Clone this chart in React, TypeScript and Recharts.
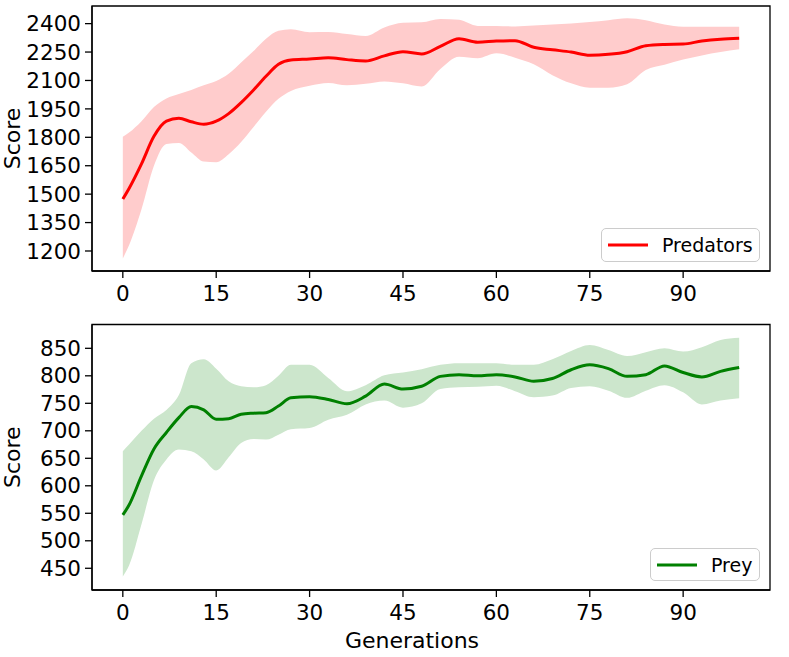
import React from 'react';
import { ComposedChart, Area, Line, XAxis, YAxis, Legend, ReferenceArea } from 'recharts';

const generations = [0, 1, 3, 5, 7, 9, 11, 13, 15, 17, 19, 21, 23, 25, 27, 30, 33, 36, 39, 42, 45, 48, 51, 54, 57, 60, 63, 66, 69, 72, 75, 78, 81, 84, 87, 90, 93, 96, 99];

const predatorMean = [1474, 1530, 1660, 1805, 1885, 1900, 1882, 1869, 1885, 1925, 1983, 2050, 2122, 2185, 2208, 2213, 2220, 2210, 2203, 2230, 2252, 2240, 2280, 2320, 2302, 2308, 2310, 2275, 2262, 2250, 2233, 2238, 2252, 2283, 2290, 2292, 2308, 2318, 2323];
const predatorHigh = [1803, 1825, 1885, 1960, 2005, 2028, 2050, 2075, 2097, 2135, 2195, 2255, 2320, 2362, 2370, 2355, 2356, 2345, 2335, 2380, 2405, 2407, 2425, 2420, 2388, 2388, 2385, 2390, 2396, 2400, 2408, 2418, 2428, 2418, 2395, 2384, 2384, 2384, 2384];
const predatorLow = [1161, 1230, 1420, 1650, 1765, 1770, 1720, 1672, 1668, 1710, 1775, 1855, 1935, 2003, 2045, 2072, 2087, 2075, 2082, 2095, 2085, 2068, 2160, 2225, 2217, 2243, 2220, 2185, 2128, 2085, 2062, 2062, 2080, 2155, 2183, 2210, 2232, 2250, 2265];

const preyMean = [547, 565, 618, 667, 697, 724, 744, 738, 721, 722, 730, 732, 733, 745, 760, 762, 757, 749, 763, 785, 776, 781, 799, 802, 800, 802, 798, 790, 795, 811, 820, 813, 799, 802, 818, 806, 798, 808, 815];
const preyHigh = [663, 675, 700, 722, 738, 765, 823, 830, 813, 790, 781, 779, 783, 800, 820, 820, 796, 772, 783, 801, 806, 812, 820, 823, 823, 823, 820, 820, 830, 845, 856, 847, 836, 843, 850, 844, 852, 865, 869];
const preyLow = [435, 455, 530, 610, 648, 666, 663, 648, 628, 652, 678, 685, 684, 693, 703, 705, 720, 729, 748, 755, 742, 750, 776, 779, 780, 782, 772, 761, 764, 778, 781, 773, 760, 773, 783, 770, 748, 755, 759];

const xTicks = [0, 15, 30, 45, 60, 75, 90];
const predatorTicks = [1200, 1350, 1500, 1650, 1800, 1950, 2100, 2250, 2400];
const preyTicks = [450, 500, 550, 600, 650, 700, 750, 800, 850];

const X_DOMAIN: [number, number] = [-4.95, 103.95];
const FONT = '"DejaVu Sans", sans-serif';
const TICK_FS = 21.5;
const LABEL_FS = 22;

function buildRows(mean: number[], low: number[], high: number[]) {
  return generations.map((g, i) => ({ g, mean: mean[i], band: [low[i], high[i]] }));
}

const ScoreLabel = (props: any) => {
  const vb = props.viewBox || { x: 0, y: 0, width: 0, height: 0 };
  const cx = 12;
  const cy = vb.y + vb.height / 2;
  return (
    <text x={cx} y={cy} transform={`rotate(-90 ${cx} ${cy})`} textAnchor="middle" dominantBaseline="central" fontFamily={FONT} fontSize={LABEL_FS} fill="#000">
      Score
    </text>
  );
};

const GenLabel = (props: any) => {
  const vb = props.viewBox || { x: 0, y: 0, width: 0, height: 0 };
  const cx = vb.x + vb.width / 2 - 19;
  const cy = vb.y + 50;
  return (
    <text x={cx} y={cy} textAnchor="middle" dominantBaseline="central" fontFamily={FONT} fontSize={LABEL_FS} fill="#000">
      Generations
    </text>
  );
};

const makeLegend = (label: string, color: string) => () => (
  <div style={{ boxSizing: 'border-box', width: '100%', height: '100%', border: '1.3px solid #cccccc', borderRadius: 5, background: 'rgba(255,255,255,0.8)', display: 'flex', alignItems: 'center', paddingLeft: 6, fontFamily: FONT, fontSize: 19, color: '#000' }}>
    <svg width={40} height={6} style={{ display: 'block' }}>
      <line x1={0} y1={3} x2={40} y2={3} stroke={color} strokeWidth={3} />
    </svg>
    <span style={{ marginLeft: 14, whiteSpace: 'nowrap' }}>{label}</span>
  </div>
);

type PanelProps = {
  data: any[];
  color: string;
  fill: string;
  name: string;
  domain: [number, number];
  ticks: number[];
  height: number;
  marginTop: number;
  xAxisHeight: number;
  showXLabel: boolean;
  legendPos: { left: number; top: number; width: number; height: number };
};

const Panel = (p: PanelProps) => (
  <ComposedChart width={789} height={p.height} data={p.data} margin={{ top: p.marginTop, right: 19, bottom: 0, left: 0 }}>
    <XAxis
      dataKey="g"
      type="number"
      domain={X_DOMAIN}
      ticks={xTicks}
      interval={0}
      allowDataOverflow
      height={p.xAxisHeight}
      tickSize={7}
      tickMargin={8}
      axisLine={{ stroke: '#000', strokeWidth: 1.3 }}
      tickLine={{ stroke: '#000', strokeWidth: 1.3 }}
      tick={{ fill: '#000', fontFamily: FONT, fontSize: TICK_FS }}
      label={p.showXLabel ? <GenLabel /> : undefined}
    />
    <YAxis
      type="number"
      domain={p.domain}
      ticks={p.ticks}
      interval={0}
      allowDataOverflow
      width={92}
      tickSize={7}
      tickMargin={4}
      axisLine={{ stroke: '#000', strokeWidth: 1.3 }}
      tickLine={{ stroke: '#000', strokeWidth: 1.3 }}
      tick={{ fill: '#000', fontFamily: FONT, fontSize: TICK_FS }}
      label={<ScoreLabel />}
    />
    <Area dataKey="band" type="monotone" stroke="none" fill={p.fill} fillOpacity={1} isAnimationActive={false} legendType="none" />
    <Line dataKey="mean" name={p.name} type="monotone" stroke={p.color} strokeWidth={3} dot={false} activeDot={false} isAnimationActive={false} />
    <ReferenceArea x1={X_DOMAIN[0]} x2={X_DOMAIN[1]} y1={p.domain[0]} y2={p.domain[1]} fill="none" fillOpacity={0} stroke="#000" strokeWidth={1.3} ifOverflow="visible" />
    <Legend
      layout="horizontal"
      verticalAlign="middle"
      align="center"
      content={makeLegend(p.name, p.color)}
      wrapperStyle={{ left: p.legendPos.left, top: p.legendPos.top, width: p.legendPos.width, height: p.legendPos.height }}
    />
  </ComposedChart>
);

export default function App() {
  const predRows = buildRows(predatorMean, predatorLow, predatorHigh);
  const preyRows = buildRows(preyMean, preyLow, preyHigh);
  return (
    <div style={{ position: 'absolute', left: 0, top: 0, width: 789, height: 657, background: '#fff' }}>
      <div style={{ position: 'absolute', left: 0, top: 0 }}>
        <Panel
          data={predRows}
          color="#ff0000"
          fill="#ffcccc"
          name="Predators"
          domain={[1094.4, 2493]}
          ticks={predatorTicks}
          height={316}
          marginTop={6}
          xAxisHeight={45}
          showXLabel={false}
          legendPos={{ left: 601, top: 228, width: 159, height: 34 }}
        />
      </div>
      <div style={{ position: 'absolute', left: 0, top: 318 }}>
        <Panel
          data={preyRows}
          color="#008000"
          fill="#cce6cc"
          name="Prey"
          domain={[410.5, 893.3]}
          ticks={preyTicks}
          height={339}
          marginTop={6.5}
          xAxisHeight={67}
          showXLabel={true}
          legendPos={{ left: 650, top: 230, width: 110, height: 33 }}
        />
      </div>
    </div>
  );
}
